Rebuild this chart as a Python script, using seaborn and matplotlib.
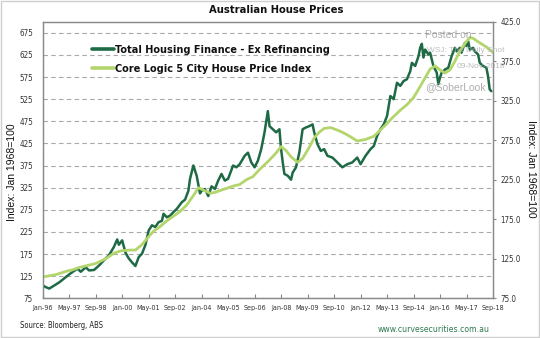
import numpy as np
import pandas as pd
import seaborn as sns
import matplotlib
matplotlib.use("Agg")
import matplotlib.pyplot as plt
from matplotlib import font_manager as fm
from matplotlib.patches import Rectangle

# ---- data (months since Jan-96) ----
fin_month = [0, 2, 4, 7, 10, 13, 16, 19, 21, 23, 26, 28, 31, 34, 37, 40, 43, 45, 46, 48,
             50, 52, 54, 56, 58, 60, 62, 64, 66, 68, 70, 72, 73, 75, 77, 79, 81, 84, 86, 88,
             89, 91, 93, 95, 96, 98, 100, 102, 104, 106, 108, 110, 112, 115, 117, 119, 122, 124, 126, 128,
             130, 132, 134, 136, 137, 139, 141, 143, 144, 145, 146, 148, 150, 151, 153, 155, 157, 159, 161, 163,
             164, 166, 168, 170, 172, 175, 178, 181, 184, 187, 190, 192, 195, 198, 200, 202, 204, 206, 208, 210,
             212, 214, 216, 218, 220, 222, 223, 225, 227, 228, 229, 230, 231, 233, 234, 236, 238, 239, 240, 241,
             243, 245, 247, 249, 250, 252, 253, 255, 256, 257, 258, 260, 261, 263, 264, 266, 268, 269, 270, 271]
fin_value = [104, 100, 97, 104, 111, 120, 129, 137, 142, 135, 145, 138, 139, 149, 161, 172, 191, 208, 196, 206,
             178, 165, 156, 148, 168, 176, 195, 228, 240, 236, 247, 250, 266, 258, 262, 270, 277, 292, 298, 318,
             345, 375, 352, 312, 318, 322, 306, 328, 322, 341, 356, 341, 345, 375, 371, 378, 397, 404, 382, 371,
             386, 412, 450, 498, 464, 457, 450, 457, 412, 382, 356, 352, 343, 359, 371, 404, 457, 461, 464, 468,
             450, 423, 408, 412, 397, 393, 382, 371, 378, 382, 393, 378, 397, 412, 419, 442, 457, 468, 487, 532,
             525, 562, 555, 566, 570, 588, 607, 600, 622, 641, 650, 619, 637, 626, 630, 600, 585, 559, 574, 585,
             592, 596, 622, 641, 633, 641, 630, 652, 645, 656, 637, 641, 633, 626, 607, 600, 596, 577, 547, 543]

cl_month = [0, 8, 14, 18, 22, 28, 32, 38, 43, 47, 52, 56, 60, 64, 67, 71, 75, 79, 83, 87,
            90, 92, 94, 96, 98, 101, 104, 108, 111, 115, 119, 123, 127, 131, 134, 137, 141, 144, 147, 150,
            154, 157, 161, 164, 167, 170, 174, 179, 183, 187, 190, 195, 200, 203, 207, 211, 216, 220, 224, 228,
            231, 234, 237, 240, 243, 246, 249, 252, 256, 258, 260, 262, 265, 268, 272]
cl_value = [102, 105, 109, 111, 114, 117, 119, 125, 132, 135, 136, 136, 143, 153, 160, 166, 173, 179, 185, 193,
            202, 208, 215, 213, 211, 208, 209, 212, 214, 217, 219, 225, 229, 238, 244, 250, 259, 267, 262, 254,
            247, 252, 266, 278, 285, 290, 291, 287, 283, 278, 274, 276, 280, 286, 294, 303, 313, 320, 329, 343,
            354, 365, 369, 364, 360, 364, 375, 388, 400, 405, 404, 401, 397, 393, 386]

tick_labels = ["Jan-96", "May-97", "Sep-98", "Jan-00", "May-01", "Sep-02", "Jan-04", "May-05", "Sep-06",
               "Jan-08", "May-09", "Sep-10", "Jan-12", "May-13", "Sep-14", "Jan-16", "May-17", "Sep-18"]
left_ticks = [75, 125, 175, 225, 275, 325, 375, 425, 475, 525, 575, 625, 675]
right_ticks = [75, 125, 175, 225, 275, 325, 375, 425]

fin_label = "Total Housing Finance - Ex Refinancing"
cl_label = "Core Logic 5 City House Price Index"

DARK = "#1d6a45"
LIGHT = "#b3d56c"

sns.set_style("white")
plt.rcParams["font.family"] = ["Liberation Sans", "DejaVu Sans"]

# pick a narrow face if one is installed
_entries = fm.fontManager.ttflist
def _has(name, stretches):
    return any(f.name == name and str(f.stretch) in stretches for f in _entries)
NARROW = {"family": ["Liberation Sans"], "stretch": "normal"}
for nm, st in [("Liberation Sans Narrow", ("normal", "400", "500")),
               ("Roboto Condensed", ("normal", "400", "500")),
               ("DejaVu Sans", ("condensed", "semi-condensed")),
               ("Noto Sans", ("condensed", "semi-condensed", "extra-condensed")),
               ("Open Sans", ("condensed", "semi-condensed"))]:
    if _has(nm, st):
        NARROW = {"family": [nm], "stretch": st[0] if nm in ("DejaVu Sans", "Noto Sans", "Open Sans") else "normal"}
        break

fig = plt.figure(figsize=(5.40, 3.38), dpi=100)
fig.patch.set_facecolor("white")
ax = fig.add_axes([42.7 / 540, 1 - 298.3 / 338, (493 - 42.7) / 540, (298.3 - 21.7) / 338])
ax2 = ax.twinx()

df_fin = pd.DataFrame({"month": fin_month, "value": fin_value})
df_cl = pd.DataFrame({"month": cl_month, "value": cl_value})

sns.lineplot(data=df_fin, x="month", y="value", ax=ax, color=DARK, linewidth=1.8, label=fin_label, legend=False, zorder=3)
sns.lineplot(data=df_cl, x="month", y="value", ax=ax2, color=LIGHT, linewidth=2.0, label=cl_label, legend=False, zorder=2)

ax.set_xlim(0, 272)
ax.set_ylim(75, 700)
ax2.set_ylim(75, 425)
ax.set_xticks(np.arange(0, 273, 16))
ax.set_xticklabels(tick_labels, color="#333333", **NARROW)
ax.set_yticks(left_ticks)
ax.set_yticklabels([str(v) for v in left_ticks], color="#333333", fontsize=5.8, **NARROW)
ax2.set_yticks(right_ticks)
ax2.set_yticklabels([f"{v:.1f}" for v in right_ticks], color="#333333", fontsize=5.8, **NARROW)

ax.grid(axis="y", linestyle=(0, (4, 3)), color="#a8a8a8", linewidth=0.8)
ax.grid(axis="x", visible=False)
ax2.grid(False)
ax.set_axisbelow(True)

ax.tick_params(axis="x", direction="in", length=3, width=0.8, color="#888888", pad=5, bottom=True)
ax.tick_params(axis="y", length=0, pad=7)
ax2.tick_params(axis="y", direction="out", length=2.5, width=0.8, color="#888888", pad=3, right=True)

for a in (ax, ax2):
    for s in a.spines.values():
        s.set_color("#8a8a8a")
        s.set_linewidth(0.9)

ax.set_xlabel("")
ax.set_ylabel("")
ax2.set_ylabel("")
fig.text(12 / 540, 1 - 172 / 338, "Index: Jan 1968=100", rotation=90, ha="center", va="center",
         fontsize=7.5, color="#111111")
fig.text(531 / 540, 1 - 169 / 338, "Index: Jan 1968=100", rotation=-90, ha="center", va="center",
         fontsize=7.5, color="#111111")

fig.text(276 / 540, 1 - 10 / 338, "Australian House Prices", ha="center", va="center",
         fontweight="bold", color="#111111", fontsize=8, **NARROW)

h1, l1 = ax.get_legend_handles_labels()
h2, l2 = ax2.get_legend_handles_labels()
leg = ax2.legend(h1 + h2, l1 + l2, loc="upper left", bbox_to_anchor=(92 / 540, 1 - 45 / 338),
                 bbox_transform=fig.transFigure, frameon=False, borderpad=0, borderaxespad=0,
                 handlelength=2.0, handletextpad=0.15, labelspacing=0.85,
                 prop={"family": NARROW["family"], "stretch": NARROW["stretch"], "weight": "bold", "size": 7.8})
for t in leg.get_texts():
    t.set_color("#111111")
for h in leg.legend_handles:
    h.set_linewidth(2.6)

# watermark
fig.text(448 / 540, 1 - 35 / 338, "Posted on", ha="center", va="center", fontsize=7.5, color="#9a9a9a", alpha=0.8)
fig.text(466 / 540, 1 - 51 / 338, "WSJ: The Daily Shot", ha="center", va="center", fontsize=6, color="#b0b0b0", alpha=0.8)
fig.text(481 / 540, 1 - 67 / 338, "09-Nov-2018", ha="center", va="center", fontsize=6, color="#a8a8a8", alpha=0.8)
fig.text(455 / 540, 1 - 87 / 338, "@SoberLook", ha="center", va="center", fontsize=7.5, color="#9a9a9a", alpha=0.8)

fig.text(20 / 540, 1 - 326 / 338, "Source: Bloomberg, ABS", ha="left", va="center",
         color="#222222", fontsize=5.5, **NARROW)
fig.text(490 / 540, 1 - 330 / 338, "www.curvesecurities.com.au", ha="right", va="center", fontsize=5.6,
         family=["DejaVu Sans"], color="#2d7a50")

fig.patches.append(Rectangle((1 / 540, 1 / 338), 538 / 540, 336 / 338, transform=fig.transFigure,
                             fill=False, edgecolor="#cfcfcf", linewidth=1.0))

# size the x tick labels so neighbouring labels keep a small gap
fig.canvas.draw()
rend = fig.canvas.get_renderer()
probe = fig.text(0, 0, "May-97", fontsize=10, **NARROW)
w = probe.get_window_extent(rend).width
probe.remove()
tick_pt = min(5.8, 10 * 23.5 / w)
for lab in ax.get_xticklabels():
    lab.set_fontsize(tick_pt)

fig.savefig("out.png", dpi=100, facecolor="white")
